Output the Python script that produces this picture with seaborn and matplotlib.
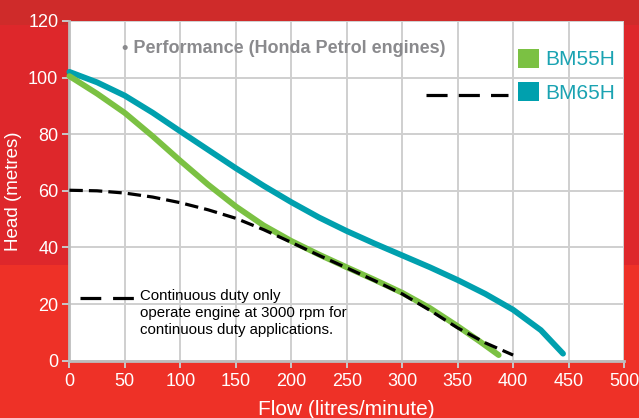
import matplotlib
matplotlib.use("Agg")
import matplotlib.pyplot as plt
from matplotlib.patches import Patch, Rectangle
from matplotlib.lines import Line2D
import seaborn as sns
import pandas as pd

# Pump performance curves: flow (L/min) vs head (m)
bm65h_flow = [0, 25, 50, 75, 100, 125, 150, 175, 200, 225, 250, 275, 300, 325, 350, 375, 400, 425, 445]
bm65h_head = [102, 98.3, 93.6, 87.6, 81, 74.5, 68, 61.8, 56, 50.6, 45.8, 41.4, 37.2, 33, 28.5, 23.6, 18, 10.8, 2.5]

bm55h_flow = [0, 25, 50, 75, 100, 125, 150, 175, 200, 225, 250, 275, 300, 325, 350, 370, 387]
bm55h_head = [100.5, 94.3, 87.5, 79.3, 70.6, 62.2, 54.5, 47.8, 42.3, 37.5, 33, 28.6, 24, 18.6, 12.2, 6.8, 2]

duty_flow = [0, 25, 50, 75, 100, 125, 150, 175, 200, 225, 250, 275, 300, 325, 350, 375, 400]
duty_head = [60.2, 60, 59.2, 57.8, 55.8, 53.3, 50.3, 46.3, 41.8, 37.2, 32.8, 28.3, 23.6, 17.8, 11.6, 6.3, 2]

x_ticks = [0, 50, 100, 150, 200, 250, 300, 350, 400, 450, 500]
y_ticks = [0, 20, 40, 60, 80, 100, 120]
models = ["BM55H", "BM65H"]

GREEN = "#7bc143"
TEAL = "#00a0ae"
LABEL_TEAL = "#1aa3b2"

sns.set_theme(style="whitegrid")
plt.rcParams["font.family"] = ["Liberation Sans", "DejaVu Sans"]

fig = plt.figure(figsize=(6.39, 4.18), dpi=100, facecolor="#ee3127")
# darker red upper band of the backdrop
fig.patches.append(Rectangle((0, 0.365), 1, 0.635, transform=fig.transFigure,
                             facecolor="#de272b", edgecolor="none", zorder=-10))
fig.patches.append(Rectangle((0, 0.94), 1, 0.06, transform=fig.transFigure,
                             facecolor="#cf2b2a", edgecolor="none", zorder=-9))

ax = fig.add_axes([0.1086, 0.137, 0.868, 0.813])
ax.set_facecolor("white")

df55 = pd.DataFrame({"flow": bm55h_flow, "head": bm55h_head})
df65 = pd.DataFrame({"flow": bm65h_flow, "head": bm65h_head})
dfd = pd.DataFrame({"flow": duty_flow, "head": duty_head})

sns.lineplot(data=df65, x="flow", y="head", ax=ax, color=TEAL, linewidth=4.2,
             solid_capstyle="round", solid_joinstyle="round", sort=False, zorder=3)
sns.lineplot(data=df55, x="flow", y="head", ax=ax, color=GREEN, linewidth=4.2,
             solid_capstyle="round", solid_joinstyle="round", sort=False, zorder=4)
sns.lineplot(data=dfd, x="flow", y="head", ax=ax, color="black", linewidth=2.3,
             sort=False, zorder=5)
ax.lines[-1].set_dashes((4.2, 1.9))
for ln in ax.lines:
    ln.set_clip_on(False)

ax.set_xlim(0, 500)
ax.set_ylim(0, 120)
ax.set_xticks(x_ticks)
ax.set_yticks(y_ticks)
ax.grid(True, color="#cfcfcf", linewidth=1.4)
ax.set_axisbelow(True)

for side in ["top", "right"]:
    ax.spines[side].set_visible(False)
for side in ["left", "bottom"]:
    ax.spines[side].set_visible(True)
    ax.spines[side].set_color("#bdbdbd")
    ax.spines[side].set_linewidth(2)

ax.tick_params(axis="both", colors="#c8c8c8", labelcolor="white", labelsize=13,
               length=5, width=1.4, direction="out", bottom=True, left=True)
ax.tick_params(axis="x", pad=4)
ax.tick_params(axis="y", pad=3)

ax.set_xlabel("Flow (litres/minute)", color="white", fontsize=15, labelpad=7)
ax.set_ylabel("Head (metres)", color="white", fontsize=13.5, labelpad=4)

ax.text(0.095, 0.92, "\u2022 Performance (Honda Petrol engines)", transform=ax.transAxes,
        ha="left", va="center", fontsize=13, fontweight="bold", color="#8a8a8d",
        fontstretch="condensed")

handles = [Patch(facecolor=GREEN, edgecolor="none"), Patch(facecolor=TEAL, edgecolor="none")]
leg = ax.legend(handles, models, loc="upper left", bbox_to_anchor=(0.809, 0.918),
                frameon=False, fontsize=15, handlelength=1.02, handleheight=1.02,
                handletextpad=0.3, labelspacing=0.62, borderpad=0, borderaxespad=0)
for t in leg.get_texts():
    t.set_color(LABEL_TEAL)

ax.add_line(Line2D([0.643, 0.79], [0.782, 0.782], transform=ax.transAxes, color="black",
                   linewidth=2.3, dashes=(6.6, 3.5), dash_capstyle="butt", clip_on=False))

ax.add_line(Line2D([0.019, 0.116], [0.185, 0.185], transform=ax.transAxes, color="black",
                   linewidth=2.3, dashes=(6.5, 3.7), clip_on=False))
ax.text(0.128, 0.21,
        "Continuous duty only\noperate engine at 3000 rpm for\ncontinuous duty applications.",
        transform=ax.transAxes, ha="left", va="top", fontsize=10.8, color="black",
        linespacing=1.25)

fig.savefig("out.png", dpi=100, facecolor=fig.get_facecolor())
